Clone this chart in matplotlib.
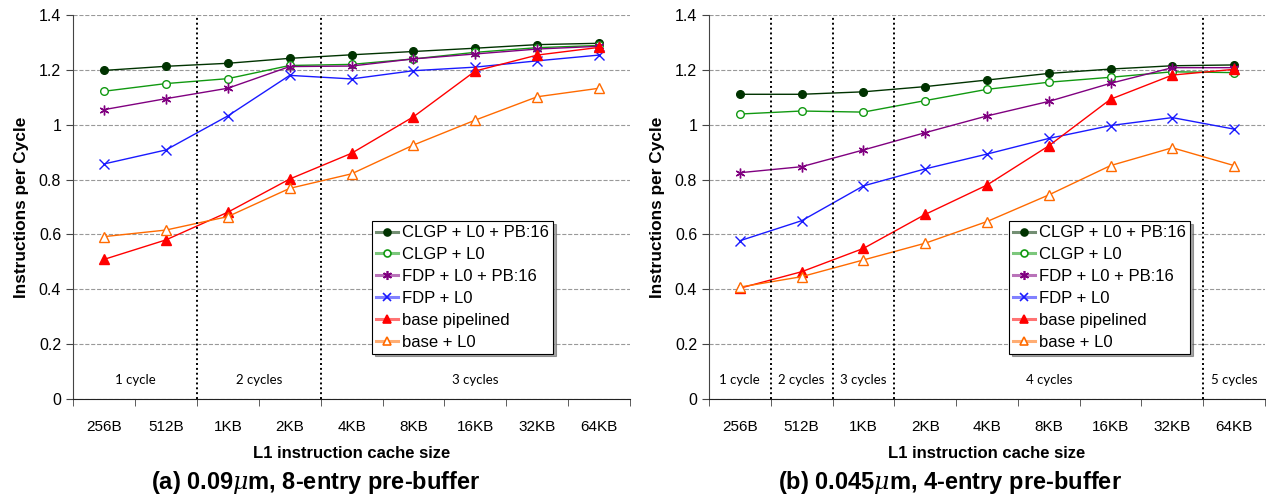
import matplotlib.pyplot as plt
from matplotlib.lines import Line2D

plt.rcParams['font.family'] = ['Liberation Sans', 'DejaVu Sans']
plt.rcParams['mathtext.fontset'] = 'custom'
plt.rcParams['mathtext.it'] = 'DejaVu Serif:italic'

# cache sizes on the x axis
sizes = ['256B', '512B', '1KB', '2KB', '4KB', '8KB', '16KB', '32KB', '64KB']

series_names = ['CLGP + L0 + PB:16', 'CLGP + L0', 'FDP + L0 + PB:16',
                'FDP + L0', 'base pipelined', 'base + L0']

# (a) 0.09um, 8-entry pre-buffer
a_clgp_pb = [1.198, 1.213, 1.224, 1.242, 1.255, 1.267, 1.279, 1.292, 1.297]
a_clgp = [1.122, 1.150, 1.168, 1.216, 1.220, 1.240, 1.264, 1.281, 1.289]
a_fdp_pb = [1.055, 1.095, 1.133, 1.212, 1.214, 1.240, 1.258, 1.276, 1.286]
a_fdp = [0.857, 0.908, 1.032, 1.180, 1.167, 1.197, 1.210, 1.233, 1.254]
a_base = [0.509, 0.580, 0.681, 0.802, 0.896, 1.029, 1.196, 1.254, 1.282]
a_base_l0 = [0.592, 0.616, 0.665, 0.768, 0.821, 0.926, 1.017, 1.102, 1.133]
a_bounds = [1.5, 3.5]
a_cycles = [(0.5, '1 cycle'), (2.5, '2 cycles'), (6.0, '3 cycles')]

# (b) 0.045um, 4-entry pre-buffer
b_clgp_pb = [1.111, 1.111, 1.120, 1.139, 1.163, 1.187, 1.203, 1.215, 1.218]
b_clgp = [1.039, 1.050, 1.046, 1.088, 1.129, 1.155, 1.173, 1.193, 1.190]
b_fdp_pb = [0.825, 0.847, 0.908, 0.971, 1.032, 1.085, 1.151, 1.208, 1.208]
b_fdp = [0.577, 0.650, 0.777, 0.839, 0.893, 0.950, 0.997, 1.026, 0.984]
b_base = [0.404, 0.464, 0.549, 0.673, 0.780, 0.923, 1.093, 1.181, 1.202]
b_base_l0 = [0.408, 0.446, 0.507, 0.568, 0.647, 0.744, 0.851, 0.916, 0.851]
b_bounds = [0.5, 1.5, 2.5, 7.5]
b_cycles = [(0.0, '1 cycle'), (1.0, '2 cycles'), (2.0, '3 cycles'),
            (5.0, '4 cycles'), (8.0, '5 cycles')]

styles = [
    dict(color='#003300', marker='o', mfc='#003300', ms=5.5),
    dict(color='#119911', marker='o', mfc='white', ms=5.5),
    dict(color='#800080', marker=(6, 2, 0), mfc='#800080', ms=7),
    dict(color='#1a1aff', marker='x', mfc='none', ms=6.5),
    dict(color='#ff0000', marker='^', mfc='#ff0000', ms=6.5),
    dict(color='#ff6a00', marker='^', mfc='white', ms=6.5),
]

fig = plt.figure(figsize=(12.66, 4.99), dpi=100)


def draw_panel(rect, data, bounds, cycles, leg_x, subtitle, sub_x):
    ax = fig.add_axes(rect)
    xs = list(range(len(sizes)))
    handles = []
    for name, vals, st in zip(series_names, data, styles):
        ax.plot(xs, vals, lw=1.0, mew=1.0, mec=st['color'], **st)
        # legend: faded thick line with the marker on top
        ln = Line2D([], [], color=st['color'], lw=2.2, alpha=0.55)
        mk = Line2D([], [], ls='none', marker=st['marker'], mfc=st['mfc'],
                    mec=st['color'], ms=st['ms'] - 0.5, mew=1.2)
        handles.append((ln, mk))
    for b in bounds:
        ax.axvline(b, color='black', ls=(0, (1, 1.5)), lw=1.4)
    for x, t in cycles:
        ax.text(x, 0.07, t, ha='center', va='center', fontsize=9.5,
                family='Lato')
    ax.set_xlim(-0.5, 8.5)
    ax.set_ylim(0, 1.4)
    ax.set_yticks([0, 0.2, 0.4, 0.6, 0.8, 1.0, 1.2, 1.4])
    ax.set_yticklabels(['0', '0.2', '0.4', '0.6', '0.8', '1', '1.2', '1.4'],
                       fontsize=11.5)
    ax.set_xticks(xs)
    ax.set_xticklabels(sizes, fontsize=11)
    ax.set_xticks([i - 0.5 for i in range(len(sizes) + 1)], minor=True)
    ax.tick_params(axis='x', which='major', length=0, pad=15)
    ax.tick_params(axis='x', which='minor', length=5, color='#444444')
    ax.tick_params(axis='y', length=5, color='#444444')
    ax.yaxis.grid(True, ls='--', color='#999999', lw=0.8)
    ax.set_axisbelow(True)
    for s in ['top', 'right']:
        ax.spines[s].set_visible(False)
    ax.spines['left'].set_color('#444444')
    ax.spines['bottom'].set_color('#222222')
    ax.set_ylabel('Instructions per Cycle', fontsize=12.4, fontweight='bold',
                  labelpad=7)
    ax.set_xlabel('L1 instruction cache size', fontsize=12,
                  fontweight='bold', labelpad=9)
    leg = ax.legend(handles, series_names, loc='upper left',
                    bbox_to_anchor=(leg_x, 0.463),
                    fontsize=12, fancybox=False, shadow=True,
                    borderpad=0.25, labelspacing=0.41, handlelength=1.3,
                    handletextpad=0.25, borderaxespad=0)
    leg.get_frame().set_edgecolor('black')
    leg.get_frame().set_linewidth(0.8)
    fig.text(sub_x, 0.034, subtitle, ha='center', va='center',
             fontsize=17, fontweight='bold')
    return ax


draw_panel([0.0577, 0.2004, 0.44, 0.7695],
           [a_clgp_pb, a_clgp, a_fdp_pb, a_fdp, a_base, a_base_l0],
           a_bounds, a_cycles, 0.537,
           r'(a) 0.09$\mu$m, 8-entry pre-buffer', 316 / 1266)
draw_panel([0.56, 0.2004, 0.4392, 0.7695],
           [b_clgp_pb, b_clgp, b_fdp_pb, b_fdp, b_base, b_base_l0],
           b_bounds, b_cycles, 0.54,
           r'(b) 0.045$\mu$m, 4-entry pre-buffer', 950 / 1266)

fig.savefig('out.png', dpi=100)
